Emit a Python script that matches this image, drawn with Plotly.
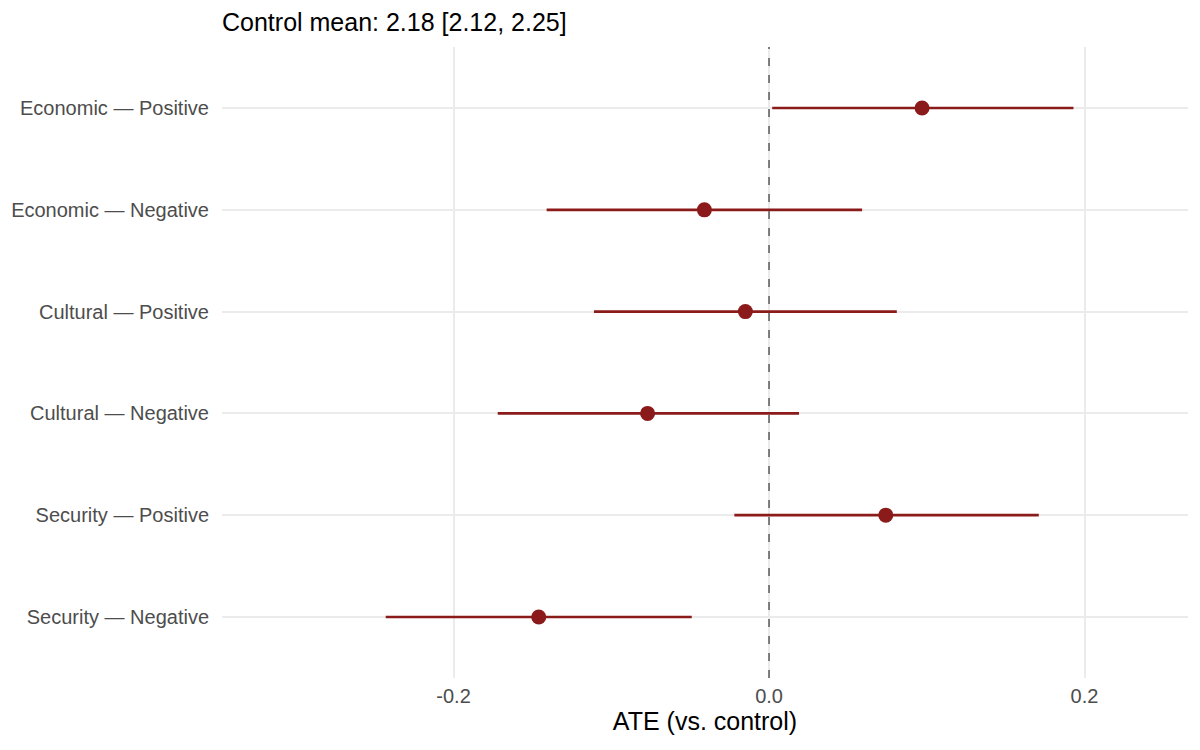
import plotly.graph_objects as go

categories = ["Economic — Positive", "Economic — Negative", "Cultural — Positive",
              "Cultural — Negative", "Security — Positive", "Security — Negative"]
ate = [0.097, -0.041, -0.015, -0.077, 0.074, -0.146]
ci_low = [0.002, -0.141, -0.111, -0.172, -0.022, -0.243]
ci_high = [0.193, 0.059, 0.081, 0.019, 0.171, -0.049]
x_ticks = [-0.2, 0.0, 0.2]
x_tick_labels = ["-0.2", "0.0", "0.2"]
title_text = "Control mean: 2.18 [2.12, 2.25]"

col = "#8b1a1a"
fig = go.Figure()
fig.add_trace(go.Scatter(
    x=ate, y=categories, mode="markers",
    marker=dict(color=col, size=15, line=dict(width=0)),
    error_x=dict(type="data", symmetric=False,
                 array=[h - a for h, a in zip(ci_high, ate)],
                 arrayminus=[a - l for a, l in zip(ate, ci_low)],
                 color=col, thickness=2.6, width=0),
    showlegend=False, hoverinfo="skip",
))
fig.add_vline(x=0, line=dict(color="#777777", width=1.9, dash="8px,9px"), layer="above")

fig.update_layout(
    width=1200, height=750,
    paper_bgcolor="white", plot_bgcolor="white",
    margin=dict(l=214, r=20, t=39, b=80),
    font=dict(family="Liberation Sans, Arial, sans-serif"),
    title=dict(text=title_text, x=214/1200, xanchor="left", xref="container",
               y=1-14/750, yanchor="middle", yref="container",
               font=dict(size=25, color="black")),
    xaxis=dict(range=[-0.3468, 0.2656], tickvals=x_ticks, ticktext=x_tick_labels,
               showgrid=True, gridcolor="#ebebeb", gridwidth=1.6, zeroline=False,
               showline=False, ticks="", ticklabelstandoff=4, automargin=False,
               tickfont=dict(size=20, color="#4d4d4d"),
               title=dict(text="ATE (vs. control)", font=dict(size=25, color="black"), standoff=5)),
    yaxis=dict(type="category", categoryorder="array", categoryarray=categories,
               range=[5.6, -0.6], showgrid=True, gridcolor="#ebebeb", gridwidth=1.6,
               zeroline=False, showline=False, ticks="", ticklen=0, ticklabelstandoff=12,
               automargin=False, tickfont=dict(size=20, color="#4d4d4d")),
)
fig.write_html("out.html")
